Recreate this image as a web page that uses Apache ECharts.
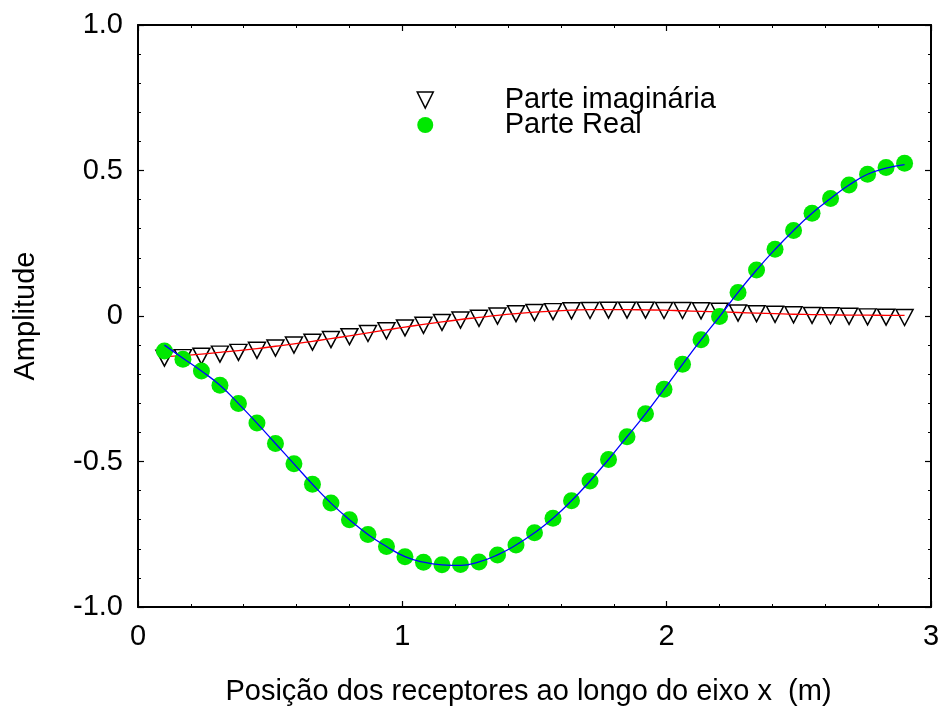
<!DOCTYPE html>
<html>
<head>
<meta charset="utf-8">
<script src="https://cdn.jsdelivr.net/npm/echarts@6/dist/echarts.min.js"></script>
<style>
html,body{margin:0;padding:0;background:#fff;}
#chart{width:943px;height:713px;}
</style>
</head>
<body>
<div id="chart"></div>
<script>
var xPos = [0.10,0.17,0.24,0.31,0.38,0.45,0.52,0.59,0.66,0.73,0.80,0.87,0.94,1.01,1.08,1.15,1.22,1.29,1.36,1.43,1.50,1.57,1.64,1.71,1.78,1.85,1.92,1.99,2.06,2.13,2.20,2.27,2.34,2.41,2.48,2.55,2.62,2.69,2.76,2.83,2.90];
var realPart = [-0.120,-0.149,-0.189,-0.238,-0.301,-0.368,-0.438,-0.508,-0.578,-0.643,-0.700,-0.751,-0.792,-0.827,-0.846,-0.855,-0.854,-0.845,-0.821,-0.787,-0.745,-0.695,-0.635,-0.567,-0.493,-0.415,-0.336,-0.252,-0.166,-0.082,-0.002,0.081,0.158,0.229,0.294,0.353,0.404,0.450,0.487,0.510,0.525];
var imagPart = [-0.145,-0.143,-0.138,-0.131,-0.125,-0.118,-0.110,-0.100,-0.090,-0.081,-0.071,-0.060,-0.051,-0.041,-0.032,-0.022,-0.014,-0.008,0.000,0.008,0.012,0.015,0.018,0.019,0.020,0.020,0.020,0.019,0.019,0.018,0.016,0.010,0.008,0.006,0.004,0.002,0.001,-0.001,-0.003,-0.004,-0.005];
var realCurve = [-0.100,-0.145,-0.189,-0.238,-0.301,-0.368,-0.438,-0.508,-0.578,-0.643,-0.700,-0.751,-0.792,-0.827,-0.846,-0.855,-0.857,-0.845,-0.821,-0.787,-0.745,-0.695,-0.635,-0.567,-0.493,-0.415,-0.336,-0.252,-0.166,-0.082,-0.002,0.081,0.158,0.229,0.294,0.353,0.404,0.450,0.487,0.508,0.520];
var imagCurve = [-0.140,-0.136,-0.131,-0.125,-0.119,-0.112,-0.104,-0.096,-0.087,-0.078,-0.068,-0.058,-0.048,-0.038,-0.029,-0.020,-0.012,-0.005,0.002,0.008,0.013,0.017,0.020,0.022,0.022,0.022,0.021,0.020,0.018,0.016,0.014,0.012,0.010,0.008,0.006,0.005,0.004,0.003,0.003,0.002,0.002];
var xTicks = [0,1,2,3];
var yTicks = ['-1.0','-0.5','0','0.5','1.0'];
var names = ['Parte imaginária','Parte Real'];
var xTitle = 'Posição dos receptores ao longo do eixo x  (m)';
var yTitle = 'Amplitude';

function pairs(xs, ys){ return xs.map(function(x,i){ return [x, ys[i]]; }); }
var FONT = 'Liberation Sans, Arial, sans-serif';
var FS = 29;
var downTri = 'path://M0,0 L10,0 L5,10 Z';

var chart = echarts.init(document.getElementById('chart'), null, {renderer:'canvas'});
var axisBase = {
  axisLine:{show:true, onZero:false, lineStyle:{color:'#000', width:2}},
  axisTick:{show:true, inside:true, length:6, lineStyle:{color:'#000', width:1.2}},
  minorTick:{show:true, splitNumber:5, length:3, lineStyle:{color:'#000', width:1}},
  splitLine:{show:false}
};
chart.setOption({
  animation:false,
  backgroundColor:'#fff',
  grid:{left:138, right:12, top:25, bottom:106, containLabel:false},
  legend:{
    orient:'vertical', left:416.5, top:85.5, padding:0, itemWidth:17, itemHeight:16, itemGap:-4,
    textStyle:{fontFamily:FONT, fontSize:FS, color:'#000', padding:[0,0,0,66], lineHeight:25},
    data:[
      {name:names[0], icon:downTri, itemStyle:{color:'#fff', borderColor:'#000', borderWidth:1.5}},
      {name:names[1], icon:'circle', itemStyle:{color:'#00e800'}}
    ]
  },
  xAxis:[
    Object.assign({type:'value', min:0, max:3, interval:1, position:'bottom',
      name:xTitle, nameLocation:'middle', nameGap:70,
      nameTextStyle:{fontFamily:FONT, fontSize:FS, color:'#000', padding:[0,12,0,0]},
      axisLabel:{show:true, margin:15, fontFamily:FONT, fontSize:FS, color:'#000',
        formatter:function(v){ return xTicks.indexOf(v)>=0 ? String(v) : ''; }}
    }, axisBase),
    Object.assign({type:'value', min:0, max:3, interval:1, position:'top', axisLabel:{show:false}}, axisBase)
  ],
  yAxis:[
    Object.assign({type:'value', min:-1, max:1, interval:0.5, position:'left',
      name:yTitle, nameLocation:'middle', nameGap:98,
      nameTextStyle:{fontFamily:FONT, fontSize:FS, color:'#000'},
      axisLabel:{show:true, margin:15, fontFamily:FONT, fontSize:FS, color:'#000',
        formatter:function(v){ var s = Math.abs(v)<1e-9 ? '0' : v.toFixed(1); return yTicks.indexOf(s)>=0 ? s : ''; }}
    }, axisBase),
    Object.assign({type:'value', min:-1, max:1, interval:0.5, position:'right', axisLabel:{show:false}}, axisBase)
  ],
  series:[
    {name:names[0], type:'scatter', z:2, data:pairs(xPos, imagPart),
      symbol:downTri, symbolSize:[17,16],
      itemStyle:{color:'#fff', borderColor:'#000', borderWidth:1.5, opacity:1}},
    {name:'imagFit', type:'line', z:3, data:pairs(xPos, imagCurve), smooth:true, showSymbol:false,
      lineStyle:{color:'#ff0000', width:1.3}},
    {name:names[1], type:'scatter', z:4, data:pairs(xPos, realPart),
      symbol:'circle', symbolSize:17, itemStyle:{color:'#00e800', opacity:1}},
    {name:'realFit', type:'line', z:5, data:pairs(xPos, realCurve), smooth:true, showSymbol:false,
      lineStyle:{color:'#0000ff', width:1.3}}
  ]
});
</script>
</body>
</html>
